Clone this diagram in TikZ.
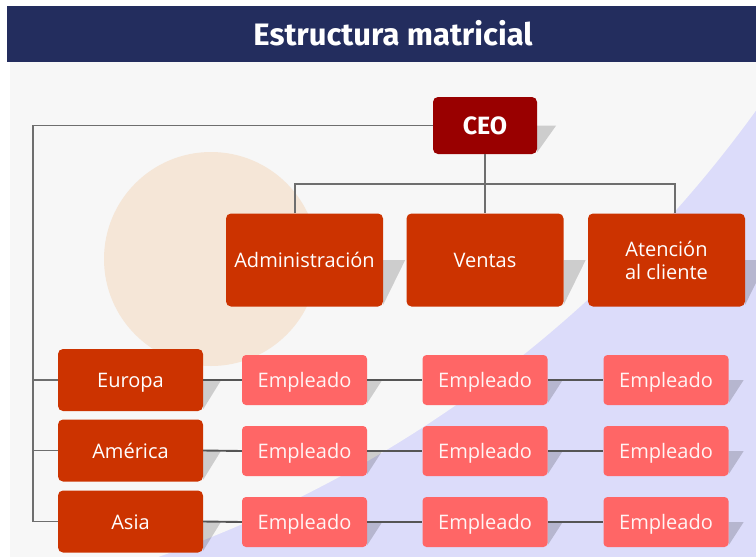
\documentclass[tikz,border=0pt]{standalone}
\usepackage{fontspec}
\setmainfont{Open Sans}
\newfontfamily\titlefont{Fira Sans}
\usetikzlibrary{calc,backgrounds}
\definecolor{esNavy}{HTML}{232D5E}
\definecolor{esPaper}{HTML}{F7F7F7}
\definecolor{esLilac}{HTML}{DCDCFA}
\definecolor{esPeach}{HTML}{F5E6D7}
\definecolor{esCeo}{HTML}{990000}
\definecolor{esRed}{HTML}{CC3300}
\definecolor{esSalmon}{HTML}{FF6666}
\definecolor{esLine}{HTML}{6E6E6E}
\definecolor{esLink}{HTML}{555555}
\pgfdeclarelayer{background}
\pgfsetlayers{background,main}
\tikzset{
  baseBox/.style={rectangle, rounded corners=5pt, align=center, inner sep=2pt,
    text=white, font=\fontsize{20}{23}\selectfont},
  ceoBox/.style={baseBox, fill=esCeo, minimum width=104pt, minimum height=57pt,
    font=\titlefont\bfseries\fontsize{25}{27}\selectfont},
  deptBox/.style={baseBox, fill=esRed, minimum width=157pt, minimum height=93pt},
  regionBox/.style={baseBox, fill=esRed, minimum width=145pt, minimum height=62pt,
    text height=17pt, text depth=2pt},
  empBox/.style={baseBox, rounded corners=4pt, fill=esSalmon, text=white!93!esSalmon,
    minimum width=125pt, minimum height=50pt, text height=17pt, text depth=2pt},
  castShadow/.style={fill=black, fill opacity=0.17},
  tree/.style={draw=esLine, line width=1.4pt},
  rowLink/.style={draw=esLink, line width=1.9pt},
  titleText/.style={text=white, font=\titlefont\bfseries\fontsize{31}{33}\selectfont},
}

\begin{document}
\begin{tikzpicture}[x=1pt,y=-1pt]
  \useasboundingbox (0,0) rectangle (756,557);
  \begin{pgfonlayer}{background}
    \fill[white] (0,0) rectangle (756,557);
    \fill[esLilac] (10,62) rectangle (756,557);
    \begin{scope}
      \clip (10,62) rectangle (756,557);
      \fill[esPaper] (-251,-615) circle[radius=1241];
    \end{scope}
    \fill[esPeach] (211,259) circle[radius=107];
    \fill[esNavy] (7,6) rectangle (756,62);
  \end{pgfonlayer}

  \node[titleText] (title) at (393,33) {Estructura matricial};

  \node[ceoBox] (ceo) at (485,125.5) {CEO};
  \node[deptBox] (admin) at (304.5,260) {Administración};
  \node[deptBox] (ventas) at (485,260) {Ventas};
  \node[deptBox] (atencion) at (666.5,260) {Atención\\al cliente};

  \node[regionBox] (europa) at (130.5,380) {Europa};
  \node[regionBox] (america) at (130.5,450.5) {América};
  \node[regionBox] (asia) at (130.5,521.5) {Asia};

  \foreach \row/\y in {europa/380,america/451,asia/522}
    \foreach \col/\x in {1/304.5,2/485,3/666}
      \node[empBox] (\row\col) at (\x,\y) {Empleado};

  % cast shadows, behind the boxes
  \begin{pgfonlayer}{background}
    \foreach \n/\d in {ceo/19,admin/22,ventas/22,atencion/22,europa/18,america/18,asia/18}
      \fill[castShadow] (\n.east) -- ++(\d,0) -- ($(\n.south east)+(0,-2)$) -- cycle;
    \foreach \row in {europa,america,asia}
      \foreach \col in {1,2,3}
        \fill[castShadow] (\row\col.east) -- ++(15,0) -- ($(\row\col.south east)+(0,-2)$) -- cycle;
  \end{pgfonlayer}

  % CEO to regions
  \coordinate (spine) at (33,126);
  \draw[tree] (ceo.west) -| (spine |- asia.west) -- (asia.west);
  \draw[tree] (spine |- europa.west) -- (europa.west);
  \draw[tree] (spine |- america.west) -- (america.west);

  % CEO to departments
  \coordinate (busL) at (295,184);
  \coordinate (busR) at (675,184);
  \draw[tree] (busL |- admin.north) -- (busL) -- (busR) -- (busR |- atencion.north);
  \draw[tree] (ceo.south) -- (ventas.north);

  % regions to employees
  \foreach \row in {europa,america,asia} {
    \draw[rowLink] (\row.east) -- (\row1.west);
    \draw[rowLink] (\row1.east) -- (\row2.west);
    \draw[rowLink] (\row2.east) -- (\row3.west);
  }
\end{tikzpicture}
\end{document}
